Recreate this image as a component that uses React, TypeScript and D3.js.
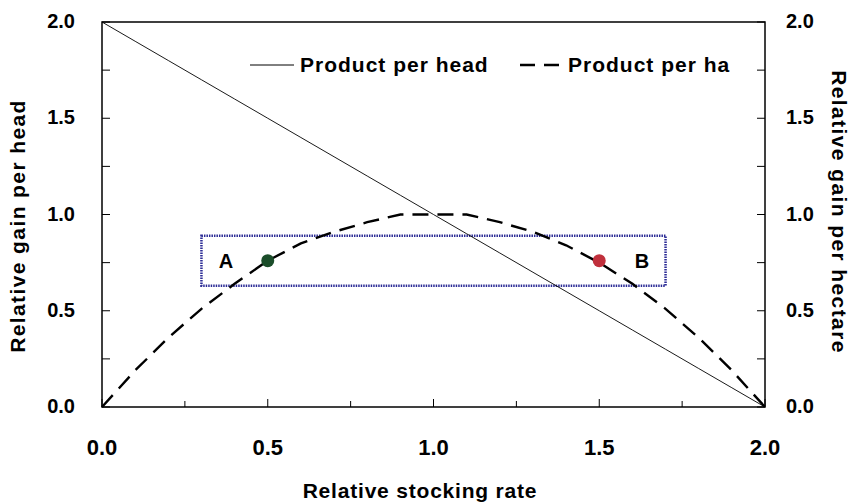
import React from "react";
import * as d3 from "d3";

const xValues = [0, 0.1, 0.2, 0.3, 0.4, 0.5, 0.6, 0.7, 0.8, 0.9, 1.0, 1.1, 1.2, 1.3, 1.4, 1.5, 1.6, 1.7, 1.8, 1.9, 2.0];
const perHead = [2.0, 1.9, 1.8, 1.7, 1.6, 1.5, 1.4, 1.3, 1.2, 1.1, 1.0, 0.9, 0.8, 0.7, 0.6, 0.5, 0.4, 0.3, 0.2, 0.1, 0.0];
const perHa = [0, 0.19, 0.36, 0.51, 0.64, 0.76, 0.85, 0.91, 0.96, 1.0, 1.0, 1.0, 0.96, 0.91, 0.84, 0.75, 0.64, 0.51, 0.36, 0.19, 0];
const tickValues = [0, 0.5, 1.0, 1.5, 2.0];
const minorTicks = [0.25, 0.75, 1.25, 1.75];
const pointsA = { x: 0.5, y: 0.76 };
const pointsB = { x: 1.5, y: 0.76 };
const boxRange = { x0: 0.3, x1: 1.7, y0: 0.63, y1: 0.89 };

const W = 860, H = 503;
const L = 102, R = 765, T = 22, B = 407;
const font = "Arial, 'Liberation Sans', sans-serif";

export default function App() {
  const x = d3.scaleLinear().domain([0, 2]).range([L, R]);
  const y = d3.scaleLinear().domain([0, 2]).range([B, T]);
  const line = d3.line<number>().x((_, i) => x(xValues[i])).y((d) => y(d));
  const allTicks = [...tickValues, ...minorTicks];
  return (
    <svg width={W} height={H} style={{ position: "absolute", left: 0, top: 0 }} fontFamily={font}>
      <rect x={0} y={0} width={W} height={H} fill="#fff" />
      {/* frame */}
      <rect x={L} y={T} width={R - L} height={B - T} fill="none" stroke="#000" strokeWidth={1.5} />
      {/* ticks */}
      {allTicks.map((t) => {
        const major = tickValues.includes(t);
        const len = major ? 8 : 6;
        return (
          <g key={"t" + t}>
            <line x1={x(t)} x2={x(t)} y1={B} y2={B - len} stroke="#000" strokeWidth={1} />
            <line x1={L} x2={L + 8} y1={y(t)} y2={y(t)} stroke="#000" strokeWidth={1} />
            <line x1={R} x2={R - 8} y1={y(t)} y2={y(t)} stroke="#000" strokeWidth={1} />
          </g>
        );
      })}
      {tickValues.map((t) => (
        <g key={"l" + t} fontWeight="bold">
          <text x={x(t)} y={455} textAnchor="middle" fontSize={22}>{t.toFixed(1)}</text>
          <text x={75} y={y(t) + 6} textAnchor="end" fontSize={20}>{t.toFixed(1)}</text>
          <text x={786} y={y(t) + 6} textAnchor="start" fontSize={20}>{t.toFixed(1)}</text>
        </g>
      ))}
      {/* axis titles */}
      <text x={420} y={498} textAnchor="middle" fontSize={21} letterSpacing={0.8} fontWeight="bold">Relative stocking rate</text>
      <text transform={`translate(25,226) rotate(-90)`} textAnchor="middle" fontSize={21} letterSpacing={1.4} fontWeight="bold">Relative gain per head</text>
      <text transform={`translate(832,212) rotate(90)`} textAnchor="middle" fontSize={21} letterSpacing={1.4} fontWeight="bold">Relative gain per hectare</text>
      {/* box */}
      <rect x={x(boxRange.x0)} y={y(boxRange.y1)} width={x(boxRange.x1) - x(boxRange.x0)} height={y(boxRange.y0) - y(boxRange.y1)}
        fill="none" stroke="#2c2c96" strokeWidth={2.5} strokeDasharray="1.5,1" />
      {/* lines */}
      <path d={line(perHead) || ""} fill="none" stroke="#000" strokeWidth={0.9} />
      <path d={line(perHa) || ""} fill="none" stroke="#000" strokeWidth={2.4} strokeDasharray="16,9" />
      {/* points */}
      <circle cx={x(pointsA.x)} cy={y(pointsA.y)} r={6.5} fill="#1b4d2a" />
      <circle cx={x(pointsB.x)} cy={y(pointsB.y)} r={6.5} fill="#c0303c" />
      <text x={226} y={y(pointsA.y) + 7} textAnchor="middle" fontSize={20} fontWeight="bold">A</text>
      <text x={642} y={y(pointsB.y) + 7} textAnchor="middle" fontSize={20} fontWeight="bold">B</text>
      {/* legend */}
      <line x1={250} x2={294} y1={65} y2={65} stroke="#000" strokeWidth={1} />
      <text x={300} y={72} fontSize={21} letterSpacing={1} fontWeight="bold">Product per head</text>
      <line x1={520} x2={559} y1={65} y2={65} stroke="#000" strokeWidth={2.4} strokeDasharray="15,9" />
      <text x={568} y={72} fontSize={21} letterSpacing={1} fontWeight="bold">Product per ha</text>
    </svg>
  );
}
